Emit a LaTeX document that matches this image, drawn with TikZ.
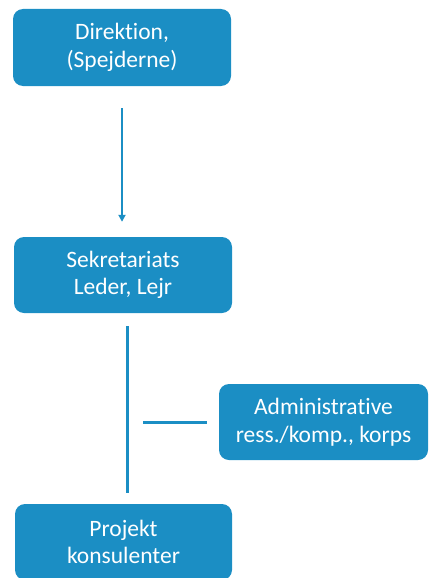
\documentclass[tikz,border=0pt]{standalone}
\usepackage{fontspec}
\setmainfont[Ligatures={NoCommon}]{Carlito}
\usetikzlibrary{arrows.meta}
\definecolor{boxblue}{HTML}{1B8EC4}
\begin{document}
\begin{tikzpicture}[x=1pt,y=-1pt,
  orgbox/.style={fill=boxblue, draw=none, rounded corners=10pt, text=white,
    align=center, inner sep=0pt, font=\fontsize{23.5}{27.5}\selectfont},
  link/.style={draw=boxblue}]
\useasboundingbox (0,0) rectangle (429,578);
\begin{scope}
\clip (0,0) rectangle (429,578);
\node[orgbox, minimum width=218pt, minimum height=77pt] (d) at (122,47.5) {Direktion,\\(Spejderne)};
\node[orgbox, minimum width=218pt, minimum height=76pt] (s) at (123,275) {Sekretariats\\Leder, Lejr};
\node[orgbox, minimum width=209pt, minimum height=76pt] (a) at (323.5,422) {Administrative\\ress./komp., korps};
\node[orgbox, minimum width=217pt, minimum height=76pt] (p) at (123.5,542) {Projekt\\konsulenter};
\end{scope}
\coordinate (h) at (143,422);
\draw[link, line width=2pt, -{Triangle[length=7pt,width=7pt]}, shorten <=22pt, shorten >=15pt] (d.south) -- (s.north -| d.south);
\draw[link, line width=3pt, shorten <=13pt, shorten >=11pt] ([xshift=4pt]s.south) -- ([xshift=3.5pt]p.north);
\draw[link, line width=3pt, shorten <=12pt] (a.west) -- (h);
\end{tikzpicture}
\end{document}
